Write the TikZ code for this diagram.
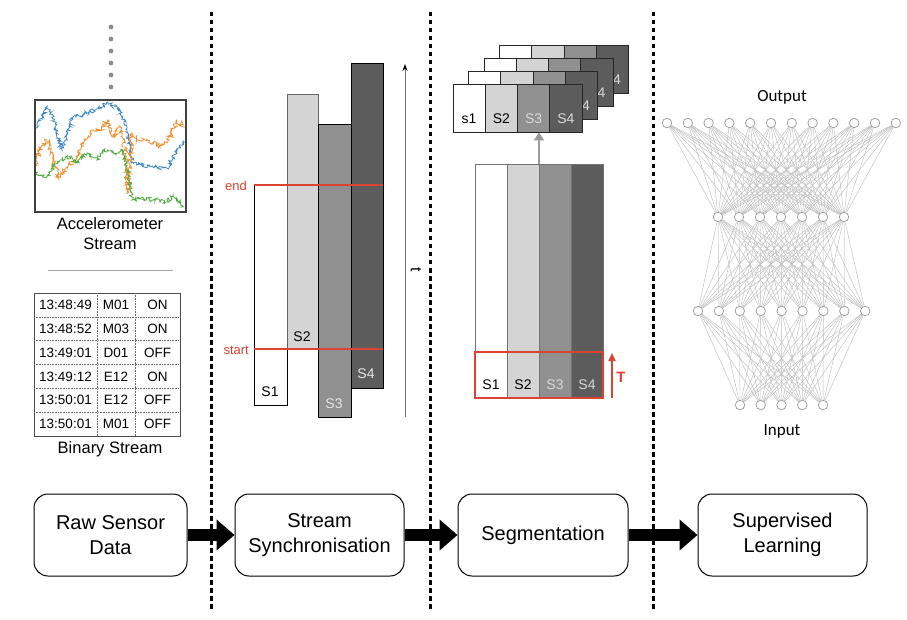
\documentclass[tikz,border=0pt]{standalone}
\usepackage{fontspec}
\setmainfont{Liberation Sans}
\newfontfamily\nnfont{Carlito}
\usetikzlibrary{arrows.meta, positioning, decorations.pathmorphing}

\definecolor{segred}{HTML}{DC4330}
\definecolor{lgray}{HTML}{D4D4D4}
\definecolor{mgray}{HTML}{909090}
\definecolor{dgray}{HTML}{5C5C5C}
\definecolor{accblue}{HTML}{3C87C4}
\definecolor{accorange}{HTML}{EE9238}
\definecolor{accgreen}{HTML}{4DAA3E}

\begin{document}
\begin{tikzpicture}[x = 1pt, y = -1pt,
	divider/.style = {line width = 3pt, dash pattern = on 4.5pt off 3.5pt},
	stage/.style = {draw, rounded corners = 14pt, line width = 1pt, minimum height = 82pt, align = center, font = \fontsize{20}{25}\selectfont},
	bigarrow/.style = {line width = 12pt, -{Triangle[length = 18pt, width = 30pt]}},
	bar/.style = {draw = black, line width = 0.8pt},
	cell/.style = {draw = black!85, line width = 0.7pt, minimum width = 32.25pt, minimum height = 48pt, inner sep = 0pt},
	column/.style = {draw = black!55, line width = 0.7pt, minimum width = 32pt, minimum height = 234pt, inner sep = 0pt},
	neuron/.style = {circle, draw = black!40, fill = white, line width = 0.7pt, minimum size = 9.5pt, inner sep = 0pt},
	synapse/.style = {black!25, line width = 0.45pt},
	lbl/.style = {font = \fontsize{14}{16}\selectfont, inner sep = 0pt},
	tabtext/.style = {font = \fontsize{13.5}{16}\selectfont, inner sep = 0pt},
	caption/.style = {font = \fontsize{16.5}{20}\selectfont, align = center}
]
\useasboundingbox (0, 0) rectangle (907, 620);

% dividers
\foreach \x in {211, 430, 653}
	\draw[divider] (\x, 12) -- (\x, 612);

% pipeline stages
\node[stage, minimum width = 153pt] (raw) at (110.5, 535) {Raw Sensor\\Data};
\node[stage, minimum width = 169pt] (sync) at (319.5, 535) {Stream\\Synchronisation};
\node[stage, minimum width = 170pt] (seg) at (543, 535) {Segmentation};
\node[stage, minimum width = 169pt] (learn) at (782.5, 535) {Supervised\\Learning};
\draw[bigarrow] (raw) -- (sync);
\draw[bigarrow] (sync) -- (seg);
\draw[bigarrow] (seg) -- (learn);

% raw sensor data
\foreach \y in {27, 39, ..., 87}
	\fill[black!45] (111, \y) circle (2.4);
\pgfmathsetseed{11}
\begin{scope}
\clip (35, 100) rectangle (186, 212);
\draw[accblue, line width = 0.8pt, decorate, decoration = {random steps, segment length = 1pt, amplitude = 2pt}]
	plot coordinates {(35,130) (47,107) (53,117) (62,150) (73,117) (87,113) (100,108) (108,102) (120,110) (127,130) (133,163) (153,167) (167,168) (177,150) (185,142)};
\draw[accorange, line width = 0.8pt, decorate, decoration = {random steps, segment length = 1pt, amplitude = 2.6pt}]
	plot coordinates {(35,167) (40,147) (47,140) (53,160) (58,177) (67,167) (75,160) (83,143) (90,133) (100,130) (108,120) (113,137) (120,127) (125,147) (128,193) (132,133) (137,140) (147,140) (160,147) (167,143) (177,120) (185,127)};
\draw[accgreen, line width = 0.8pt, decorate, decoration = {random steps, segment length = 1pt, amplitude = 2pt}]
	plot coordinates {(35,173) (47,177) (53,167) (60,160) (70,157) (77,163) (87,153) (97,160) (103,150) (113,153) (123,150) (128,173) (132,200) (140,198) (153,200) (167,202) (173,195) (183,207)};
\end{scope}
\draw[black!75, line width = 1.1pt] (35, 100) rectangle (186, 212);
\node[caption] (acccap) at (110, 234) {Accelerometer\\Stream};
\draw[black!35, line width = 0.8pt] (48, 270) -- (173, 270);

\draw[black!70, line width = 0.9pt] (34, 293) rectangle (180, 436);
\foreach \r in {1, ..., 5}
	\draw[black!60, densely dotted, line width = 0.6pt] (34, {293 + \r*23.83}) -- (180, {293 + \r*23.83});
\foreach \x in {97, 135}
	\draw[black!60, densely dotted, line width = 0.6pt] (\x, 293) -- (\x, 436);
\foreach \t/\s/\v [count = \r] in {13:48:49/M01/ON, 13:48:52/M03/ON, 13:49:01/D01/OFF, 13:49:12/E12/ON, 13:50:01/E12/OFF, 13:50:01/M01/OFF} {
	\node[tabtext] (time\r) at (65.5, {293 + (\r - 0.5)*23.83}) {\t};
	\node[tabtext] (sensor\r) at (116, {293 + (\r - 0.5)*23.83}) {\s};
	\node[tabtext] (value\r) at (157.5, {293 + (\r - 0.5)*23.83}) {\v};
}
\node[caption] (bincap) at (110, 449) {Binary Stream};

% stream synchronisation
\draw[bar, fill = white] (254, 185) rectangle (287, 405);
\draw[bar, draw = black!60, fill = lgray] (287, 94) rectangle (318, 349);
\draw[bar, fill = mgray] (318, 124) rectangle (351, 417);
\draw[bar, fill = dgray] (351, 63) rectangle (383, 388);
\draw[segred, line width = 1.8pt] (254, 185) -- (383, 185);
\draw[segred, line width = 1.8pt] (254, 349) -- (383, 349);
\node[lbl, text = segred, font = \fontsize{13}{15}\selectfont, anchor = east] (endlbl) at (247, 186) {end};
\node[lbl, text = segred, font = \fontsize{13}{15}\selectfont, anchor = east] (startlbl) at (249, 350) {start};
\node[lbl] (s1) at (270, 392) {S1};
\node[lbl] (s2) at (302, 337) {S2};
\node[lbl, text = white!90!black] (s3) at (334, 404) {S3};
\node[lbl, text = white!90!black] (s4) at (366, 374) {S4};
\coordinate (tstart) at (405, 417);
\coordinate (tend) at (405, 64);
\draw[black!55, line width = 1pt, -{Stealth[length = 7pt, width = 5pt, black]}] (tstart) -- (tend);
\node[lbl, rotate = -90, font = \fontsize{16}{18}\selectfont] (tlbl) at (416, 270) {t};

% segmentation
\foreach \i/\f in {1/white, 2/lgray, 3/mgray, 4/dgray}
	\node[column, fill = \f] (col\i) at ({475 + 32*(\i - 0.5)}, 281) {};
\draw[segred, line width = 1.8pt] (475, 352) rectangle (603, 398);
\foreach \i/\t in {1/black, 2/black, 3/white!85!black, 4/white!85!black}
	\node[lbl, text = \t] (w\i) at ({475 + 32*(\i - 0.5)}, 385) {S\i};
\coordinate (tbot) at (612, 398);
\coordinate (ttop) at (612, 353);
\draw[segred, line width = 1.6pt, -{Triangle[length = 8pt, width = 7pt]}] (tbot) -- (ttop);
\node[lbl, text = segred, font = \fontsize{15}{17}\bfseries] (Tlbl) at (621, 377) {T};

% stacked windows
\foreach \k in {3, 2, 1} {
	\begin{scope}[shift = {(15.5*\k, -13*\k)}]
	\foreach \i/\f/\t in {1/white/black, 2/lgray/black, 3/mgray/white!85!black, 4/dgray/white!85!black} {
		\node[cell, fill = \f] (win\k-\i) at ({453 + 32.25*(\i - 0.5)}, 108) {};
		\node[lbl, text = \t] at ({453 + 32.25*(\i - 0.5)}, 119) {S\i};
	}
	\end{scope}
}
\foreach \i/\f/\t/\s in {1/white/black/s1, 2/lgray/black/S2, 3/mgray/white!85!black/S3, 4/dgray/white!85!black/S4} {
	\node[cell, fill = \f] (win0-\i) at ({453 + 32.25*(\i - 0.5)}, 108) {};
	\node[lbl, text = \t] (wl\i) at ({453 + 32.25*(\i - 0.5)}, 119) {\s};
}
\coordinate (segtop) at (539, 164);
\coordinate (winbot) at (539, 132.5);
\draw[black!40, line width = 2.5pt, -{Triangle[length = 8pt, width = 10pt]}] (segtop) -- (winbot);

% supervised learning
\foreach \i in {1, ..., 12}
	\node[neuron] (o\i) at ({667 + (\i - 1)*20.8}, 123) {};
\foreach \i in {1, ..., 7}
	\node[neuron] (h\i) at ({718 + (\i - 1)*21}, 217) {};
\foreach \i in {1, ..., 9}
	\node[neuron] (g\i) at ({698 + (\i - 1)*20.9}, 311) {};
\foreach \i in {1, ..., 5}
	\node[neuron] (in\i) at ({740 + (\i - 1)*20.75}, 405) {};
\foreach \i in {1, ..., 12}
	\foreach \j in {1, ..., 7}
		\draw[synapse] (o\i) -- (h\j);
\foreach \i in {1, ..., 7}
	\foreach \j in {1, ..., 9}
		\draw[synapse] (h\i) -- (g\j);
\foreach \i in {1, ..., 9}
	\foreach \j in {1, ..., 5}
		\draw[synapse] (g\i) -- (in\j);
\node[font = \nnfont\fontsize{17}{20}\selectfont] (outlbl) at (782, 97) {Output};
\node[font = \nnfont\fontsize{17}{20}\selectfont] (inlbl) at (782, 431) {Input};
\end{tikzpicture}
\end{document}
